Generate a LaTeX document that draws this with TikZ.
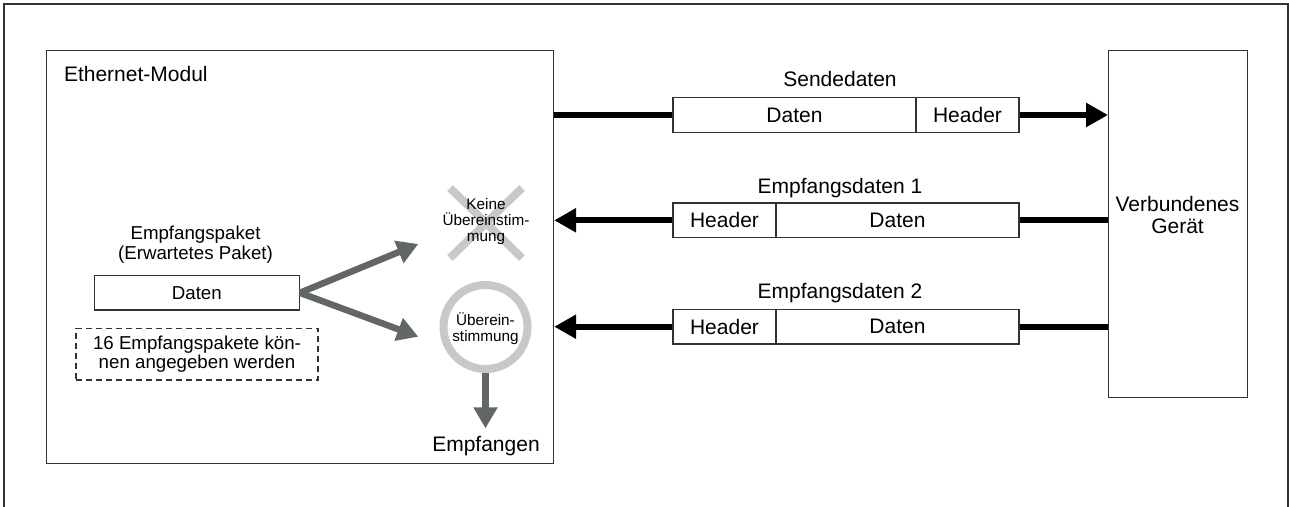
\documentclass[tikz,border=0pt]{standalone}
\usepackage{fontspec}
\setmainfont{Liberation Sans}
\usetikzlibrary{arrows.meta}
\definecolor{fgray}{RGB}{50,50,50}
\definecolor{agray}{RGB}{98,102,102}
\definecolor{lgray}{RGB}{200,200,200}
\tikzset{
  big/.style={font=\fontsize{21}{22.3}\selectfont},
  mid/.style={font=\fontsize{18.7}{19.3}\selectfont},
  small/.style={font=\fontsize{15.3}{16.2}\selectfont},
  seg/.style={draw=fgray, line width=1.2pt, minimum height=34.6pt, inner sep=0pt, big},
  bigbox/.style={draw=fgray, line width=1.2pt, inner sep=0pt, anchor=north west},
  thickline/.style={line width=6pt, black},
  blackarrow/.style={line width=6pt, black, -{Triangle[length=22pt,width=23pt]}},
  grayarrow/.style={line width=6.5pt, agray, -{Triangle[length=21pt,width=23pt]}},
}
\begin{document}
\begin{tikzpicture}[x=1pt,y=-1pt]
\useasboundingbox (0,0) rectangle (1289,506);
% outer frame
\draw[fgray, line width=1.2pt] (4,510) -- (4,4) -- (1288,4) -- (1288,510);

% main boxes
\node[bigbox, minimum width=507pt, minimum height=413pt] (eth) at (46,50) {};
\node[big, anchor=base west] (ethl) at (60.5,81) {Ethernet-Modul};
\node[bigbox, minimum width=139pt, minimum height=347pt] (dev) at (1108,50) {};
\node[big, align=center] (devl) at (1177.5,215.3) {Verbundenes\\Gerät};

% Sendedaten
\node[big, anchor=base] (sl) at (840,86.7) {Sendedaten};
\node[seg, minimum width=243pt] (sd) at (794.5,115) {Daten};
\node[seg, minimum width=103pt] (sh) at (967.5,115) {Header};
\draw[thickline] (sd.west -| eth.east) -- (sd.west);
\draw[blackarrow] (sh.east) -- (sh.east -| dev.west);

% Empfangsdaten 1
\node[big, anchor=base] (e1l) at (840,193) {Empfangsdaten 1};
\node[seg, minimum width=103pt] (e1h) at (724.5,220.3) {Header};
\node[seg, minimum width=243pt] (e1d) at (897.5,220.3) {Daten};
\draw[thickline] (e1d.east -| dev.west) -- (e1d.east);
\draw[blackarrow] (e1h.west) -- (e1h.west -| eth.east);

% Empfangsdaten 2
\node[big, anchor=base] (e2l) at (840,298) {Empfangsdaten 2};
\node[seg, minimum width=103pt] (e2h) at (724.5,326.7) {Header};
\node[seg, minimum width=243pt] (e2d) at (897.5,326.7) {Daten};
\draw[thickline] (e2d.east -| dev.west) -- (e2d.east);
\draw[blackarrow] (e2h.west) -- (e2h.west -| eth.east);

% Empfangspaket
\node[mid, align=center] (pl) at (195.5,244.8) {Empfangspaket\\(Erwartetes Paket)};
\node[draw=fgray, line width=1.2pt, minimum width=205pt, minimum height=34.3pt, inner sep=0pt, mid] (pd) at (196.8,292.8) {Daten};
\node[draw=fgray, line width=1.6pt, dash pattern=on 6pt off 4pt, minimum width=242pt, minimum height=51.7pt, inner sep=0pt, mid, align=center, font=\fontsize{18.7}{17.4}\selectfont] (note) at (197,354.2) {16 Empfangspakete kön-\\nen angegeben werden};

% no match: cross
\coordinate (xc) at (486,223);
\draw[lgray, line width=8pt] (450,188) -- (522,258);
\draw[lgray, line width=8pt] (522,188) -- (450,258);
\node[small, align=center] (nm) at (486,221.5) {Keine\\Übereinstim-\\mung};

% match: circle
\node[circle, draw=lgray, line width=8pt, minimum size=84pt, inner sep=0pt] (circ) at (485.5,327) {};
\node[small, align=center] (ml) at (485.5,329) {Überein-\\stimmung};

% gray arrows
\coordinate (tipup) at (418.3,244);
\coordinate (tipdn) at (418.3,336.7);
\draw[grayarrow] (pd.east) -- (tipup);
\draw[grayarrow] (pd.east) -- (tipdn);
\coordinate (tiprx) at (485.5,428.3);
\draw[grayarrow] (circ.south) -- (tiprx);
\node[big, anchor=base] (rx) at (486,451.7) {Empfangen};
\end{tikzpicture}
\end{document}
